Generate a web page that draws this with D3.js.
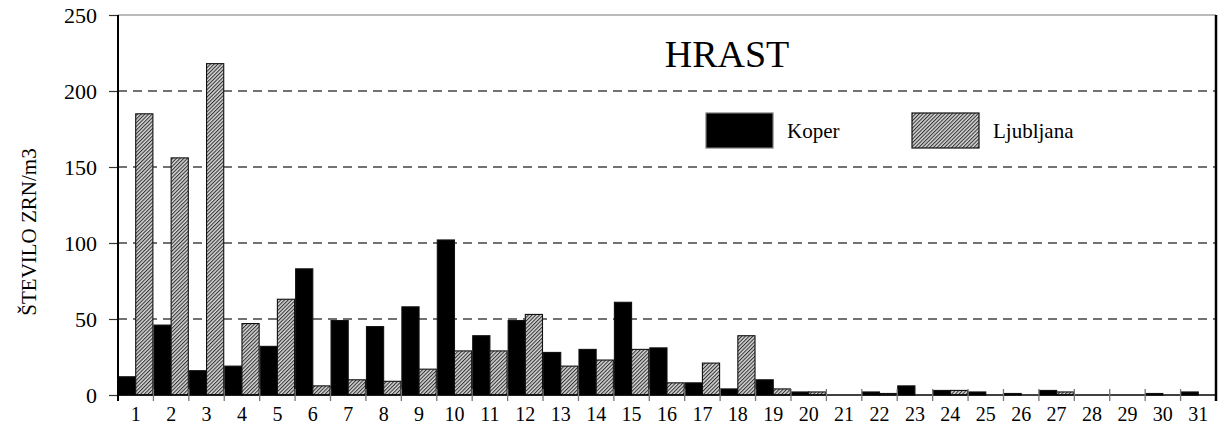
<!DOCTYPE html>
<html>
<head>
<meta charset="utf-8">
<script src="https://cdn.jsdelivr.net/npm/d3@7"></script>
<style>
  html, body { margin: 0; padding: 0; background: #fff; }
  svg { display: block; }
  svg text { font-family: "Liberation Serif", "Times New Roman", serif !important; fill: #000; }
</style>
</head>
<body>
<svg id="chart" width="1219" height="427"></svg>
<script>
// Daily pollen counts for oak (HRAST), two stations
const days = d3.range(1, 32).map(String);
const koper = [12, 46, 16, 19, 32, 83, 49, 45, 58, 102, 39, 49, 28, 30, 61, 31, 8, 4, 10, 2, 0, 2, 6, 3, 2, 1, 3, 0, 0, 1, 2];
const ljubljana = [185, 156, 218, 47, 63, 6, 10, 9, 17, 29, 29, 53, 19, 23, 30, 8, 21, 39, 4, 2, 0, 1, 0, 3, 0, 0, 2, 0, 0, 0, 0];
const seriesNames = ["Koper", "Ljubljana"];
const yTicks = [0, 50, 100, 150, 200, 250];

const rows = days.map((d, i) => ({ day: d, values: [koper[i], ljubljana[i]] }));

const svg = d3.select("#chart");
const plotLeft = 118, plotRight = 1216, plotTop = 15, plotBottom = 395;

// hatched fill for the second series
const defs = svg.append("defs");
const pat = defs.append("pattern")
  .attr("id", "hatch")
  .attr("patternUnits", "userSpaceOnUse")
  .attr("width", 2.6).attr("height", 2.6)
  .attr("patternTransform", "rotate(45)");
pat.append("rect").attr("width", 2.6).attr("height", 2.6).attr("fill", "#d6d6d6");
pat.append("line").attr("x1", 0.5).attr("y1", 0).attr("x2", 0.5).attr("y2", 2.6)
  .attr("stroke", "#333").attr("stroke-width", 1.1);

const fills = ["#000", "url(#hatch)"];

const x = d3.scaleBand().domain(days).range([plotLeft, plotRight]).paddingInner(0.03).paddingOuter(0.015);
const xInner = d3.scaleBand().domain([0, 1]).range([0, x.bandwidth()]).padding(0);
const y = d3.scaleLinear().domain([0, 250]).range([plotBottom, plotTop]);

// dashed gridlines
svg.append("g")
  .selectAll("line")
  .data(yTicks.filter(t => t > 0 && t < 250))
  .join("line")
  .attr("x1", plotLeft).attr("x2", plotRight)
  .attr("y1", d => y(d)).attr("y2", d => y(d))
  .attr("stroke", "#444").attr("stroke-width", 1.3)
  .attr("stroke-dasharray", "9,6");

// top frame line
svg.append("line")
  .attr("x1", plotLeft).attr("x2", plotRight).attr("y1", plotTop).attr("y2", plotTop)
  .attr("stroke", "#777").attr("stroke-width", 1.2);

// bars
const groups = svg.append("g").selectAll("g")
  .data(rows)
  .join("g")
  .attr("transform", d => `translate(${x(d.day)},0)`);

groups.selectAll("rect")
  .data(d => d.values.map((v, k) => ({ v, k })).filter(e => e.v > 0))
  .join("rect")
  .attr("x", e => xInner(e.k))
  .attr("width", xInner.bandwidth())
  .attr("y", e => y(e.v))
  .attr("height", e => plotBottom - y(e.v))
  .attr("fill", e => fills[e.k])
  .attr("stroke", "#111")
  .attr("stroke-width", 1.1);

// x axis baseline and ticks between days
svg.append("line")
  .attr("x1", plotLeft).attr("x2", plotRight).attr("y1", plotBottom).attr("y2", plotBottom)
  .attr("stroke", "#000").attr("stroke-width", 1.3);

const step = (plotRight - plotLeft) / days.length;
svg.append("g")
  .selectAll("line")
  .data(d3.range(0, days.length + 1))
  .join("line")
  .attr("x1", i => plotLeft + i * step).attr("x2", i => plotLeft + i * step)
  .attr("y1", plotBottom - 6).attr("y2", plotBottom + 6)
  .attr("stroke", "#777").attr("stroke-width", 1.3);

svg.append("g")
  .selectAll("text")
  .data(days)
  .join("text")
  .attr("x", d => x(d) + x.bandwidth() / 2)
  .attr("y", 421)
  .attr("text-anchor", "middle")
  .attr("font-size", 20)
  .text(d => d);

// y axis
const yAxis = svg.append("g")
  .attr("transform", `translate(${plotLeft},0)`)
  .call(d3.axisLeft(y).tickValues(yTicks).tickSize(9).tickPadding(12));
yAxis.select(".domain").remove();
yAxis.selectAll(".tick line").attr("stroke", "#333").attr("stroke-width", 1.2);
yAxis.selectAll(".tick text").attr("font-size", 22);

svg.append("line")
  .attr("x1", plotLeft).attr("x2", plotLeft).attr("y1", plotTop).attr("y2", plotBottom + 6)
  .attr("stroke", "#000").attr("stroke-width", 2);
svg.append("line")
  .attr("x1", plotRight).attr("x2", plotRight).attr("y1", plotTop).attr("y2", plotBottom + 6)
  .attr("stroke", "#000").attr("stroke-width", 2.5);

// axis title
svg.append("text")
  .attr("transform", "translate(36,232) rotate(-90)")
  .attr("text-anchor", "middle")
  .attr("font-size", 21)
  .text("ŠTEVILO ZRN/m3");

// chart title
svg.append("text")
  .attr("x", 727).attr("y", 67)
  .attr("text-anchor", "middle")
  .attr("font-size", 38)
  .text("HRAST");

// legend
const legendX = [706, 912];
const legend = svg.append("g").selectAll("g")
  .data(seriesNames)
  .join("g")
  .attr("transform", (d, i) => `translate(${legendX[i]},113)`);
legend.append("rect")
  .attr("width", 67).attr("height", 35)
  .attr("fill", (d, i) => fills[i])
  .attr("stroke", (d, i) => i === 0 ? "#777" : "#111")
  .attr("stroke-width", 1.2);
legend.append("text")
  .attr("x", 81).attr("y", 25)
  .attr("font-size", 21)
  .text(d => d);
</script>
</body>
</html>
